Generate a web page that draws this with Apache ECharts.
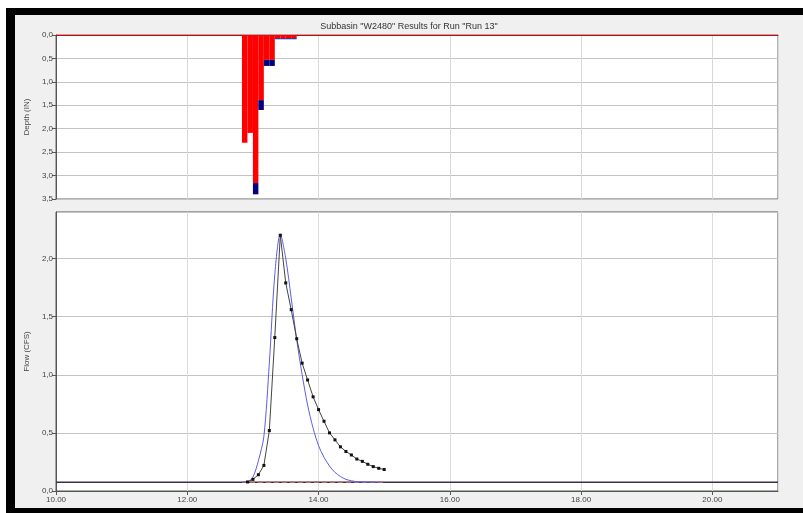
<!DOCTYPE html>
<html><head><meta charset="utf-8">
<script src="https://cdn.jsdelivr.net/npm/echarts@6/dist/echarts.min.js"></script>
<style>
html,body{margin:0;padding:0;background:#fff;width:803px;height:513px;overflow:hidden}
#frame{position:absolute;left:6px;top:8px;width:797px;height:505px;background:#000}
#chart{position:absolute;left:15px;top:15px;width:788px;height:493px;background:#f0f0f0}
</style></head>
<body><div id="frame"></div><div id="chart"></div>
<script>
// ---- data ----
var titleText = 'Subbasin "W2480" Results for Run "Run 13"';
var precipStart  = [12.833, 12.917, 13.0, 13.083, 13.167, 13.25, 13.333, 13.417, 13.5, 13.583];
var precipTotal  = [2.30, 2.09, 3.40, 1.60, 0.66, 0.66, 0.09, 0.09, 0.09, 0.09];
var precipExcess = [0.00, 0.00, 0.24, 0.21, 0.13, 0.13, 0.02, 0.02, 0.02, 0.02];
var precipStepHours = 5 / 60;

var blueTimes = [12.833, 12.917, 13.0, 13.083, 13.167, 13.25, 13.333, 13.417, 13.5, 13.583, 13.667, 13.75, 13.833, 13.917, 14.0, 14.083, 14.167, 14.25, 14.333, 14.417, 14.5, 14.583, 14.667, 14.75, 14.833, 14.917];
var blueFlow  = [0.075, 0.078, 0.12, 0.26, 0.47, 1.10, 1.86, 2.21, 2.00, 1.66, 1.30, 1.00, 0.74, 0.54, 0.39, 0.29, 0.215, 0.16, 0.125, 0.10, 0.088, 0.08, 0.078, 0.077, 0.076, 0.075];

var obsTimes = [12.917, 13.0, 13.083, 13.167, 13.25, 13.333, 13.417, 13.5, 13.583, 13.667, 13.75, 13.833, 13.917, 14.0, 14.083, 14.167, 14.25, 14.333, 14.417, 14.5, 14.583, 14.667, 14.75, 14.833, 14.917, 15.0];
var obsFlow  = [0.078, 0.10, 0.14, 0.22, 0.52, 1.32, 2.20, 1.79, 1.56, 1.31, 1.10, 0.955, 0.81, 0.70, 0.60, 0.50, 0.44, 0.38, 0.34, 0.31, 0.275, 0.255, 0.23, 0.21, 0.195, 0.185];

var baseTimes = [10.0, 21.0];
var baseFlow  = [0.075, 0.075];
var baseflowDashTimes = [12.833, 15.0];
var baseflowDashFlow  = [0.075, 0.075];

var xMin = 10, xMax = 21, xStep = 2;
var depthMax = 3.5, depthStep = 0.5;
var flowMax = 2.4, flowStep = 0.5;

// ---- build ----
function pairs(t, v){ return t.map(function(x,i){ return [x, v[i]]; }); }
var lossData = precipStart.map(function(s,i){ return [s, 0, precipTotal[i]-precipExcess[i]]; });
var excessData = precipStart.map(function(s,i){ return [s, precipTotal[i]-precipExcess[i], precipTotal[i]]; });

function rectRender(color){
  return function(params, api){
    var s = api.value(0), a = api.value(1), b = api.value(2);
    if (b - a <= 0) return null;
    var p1 = api.coord([s, a]);
    var p2 = api.coord([s + precipStepHours, b]);
    return {
      type: 'rect',
      shape: { x: Math.min(p1[0],p2[0]), y: Math.min(p1[1],p2[1]), width: Math.abs(p2[0]-p1[0]), height: Math.abs(p2[1]-p1[1]) },
      style: { fill: color }
    };
  };
}
var comma = function(v){ return v.toFixed(1).replace('.', ','); };
var fontFam = 'Liberation Sans, Arial, sans-serif';
var labelStyle = { fontSize: 8, color: '#444', fontFamily: fontFam };

var chart = echarts.init(document.getElementById('chart'), null, {renderer: 'canvas'});
chart.setOption({
  animation: false,
  backgroundColor: '#f0f0f0',
  title: { text: titleText, left: 'center', top: 2,
    textStyle: { fontSize: 9, fontWeight: 'normal', color: '#333', fontFamily: fontFam } },
  grid: [
    { left: 38, top: 20, width: 725, height: 164, show: true, backgroundColor: '#fff', borderColor: '#666', borderWidth: 1 },
    { left: 38, top: 197, width: 725, height: 279, show: true, backgroundColor: '#fff', borderColor: '#555', borderWidth: 1 }
  ],
  xAxis: [
    { gridIndex: 0, type: 'value', min: xMin, max: xMax, interval: xStep, position: 'top',
      axisLine: { show: true, lineStyle: { color: '#e00000', width: 1.2 } },
      axisTick: { show: false }, axisLabel: { show: false },
      splitLine: { show: true, lineStyle: { color: '#d8d8d8', width: 1 } } },
    { gridIndex: 1, type: 'value', min: xMin, max: xMax, interval: xStep, position: 'bottom',
      axisLine: { show: true, lineStyle: { color: '#555', width: 1 } },
      axisTick: { show: true, length: 4, lineStyle: { color: '#555' } },
      axisLabel: Object.assign({ margin: 5, showMaxLabel: false, formatter: function(v){ return v.toFixed(2); } }, labelStyle),
      splitLine: { show: true, lineStyle: { color: '#dcdcdc', width: 1 } } }
  ],
  yAxis: [
    { gridIndex: 0, type: 'value', inverse: true, min: 0, max: depthMax, interval: depthStep,
      name: 'Depth (IN)', nameLocation: 'middle', nameGap: 22,
      nameTextStyle: { fontSize: 8, color: '#444', fontFamily: fontFam },
      axisLine: { show: true, lineStyle: { color: '#555' } },
      axisTick: { show: true, length: 4, lineStyle: { color: '#555' } },
      axisLabel: Object.assign({ margin: 3, formatter: comma }, labelStyle),
      splitLine: { show: true, lineStyle: { color: '#c4c4c4', width: 1 } } },
    { gridIndex: 1, type: 'value', min: 0, max: flowMax, interval: flowStep,
      name: 'Flow (CFS)', nameLocation: 'middle', nameGap: 22,
      nameTextStyle: { fontSize: 8, color: '#444', fontFamily: fontFam },
      axisLine: { show: true, lineStyle: { color: '#555' } },
      axisTick: { show: true, length: 4, lineStyle: { color: '#555' } },
      axisLabel: Object.assign({ margin: 3, showMaxLabel: false, formatter: comma }, labelStyle),
      splitLine: { show: true, lineStyle: { color: '#c4c4c4', width: 1 } } }
  ],
  series: [
    { type: 'custom', xAxisIndex: 0, yAxisIndex: 0, renderItem: rectRender('#ff0000'), data: lossData, z: 3 },
    { type: 'custom', xAxisIndex: 0, yAxisIndex: 0, renderItem: rectRender('#000080'), data: excessData, z: 3 },
    { type: 'line', xAxisIndex: 1, yAxisIndex: 1, data: pairs(baseTimes, baseFlow), symbol: 'none',
      lineStyle: { color: '#3a3148', width: 1.5 }, z: 2 },
    { type: 'line', xAxisIndex: 1, yAxisIndex: 1, data: pairs(baseflowDashTimes, baseflowDashFlow), symbol: 'none',
      lineStyle: { color: '#b8645a', width: 1.5, type: [5, 3] }, z: 3 },
    { type: 'line', xAxisIndex: 1, yAxisIndex: 1, data: pairs(blueTimes, blueFlow), symbol: 'none', smooth: 0.3,
      lineStyle: { color: '#5c5ce6', width: 1 }, z: 4 },
    { type: 'line', xAxisIndex: 1, yAxisIndex: 1, data: pairs(obsTimes, obsFlow), symbol: 'rect', symbolSize: 3,
      itemStyle: { color: '#111' }, lineStyle: { color: '#444', width: 1 }, z: 5 }
  ]
});
</script></body></html>
